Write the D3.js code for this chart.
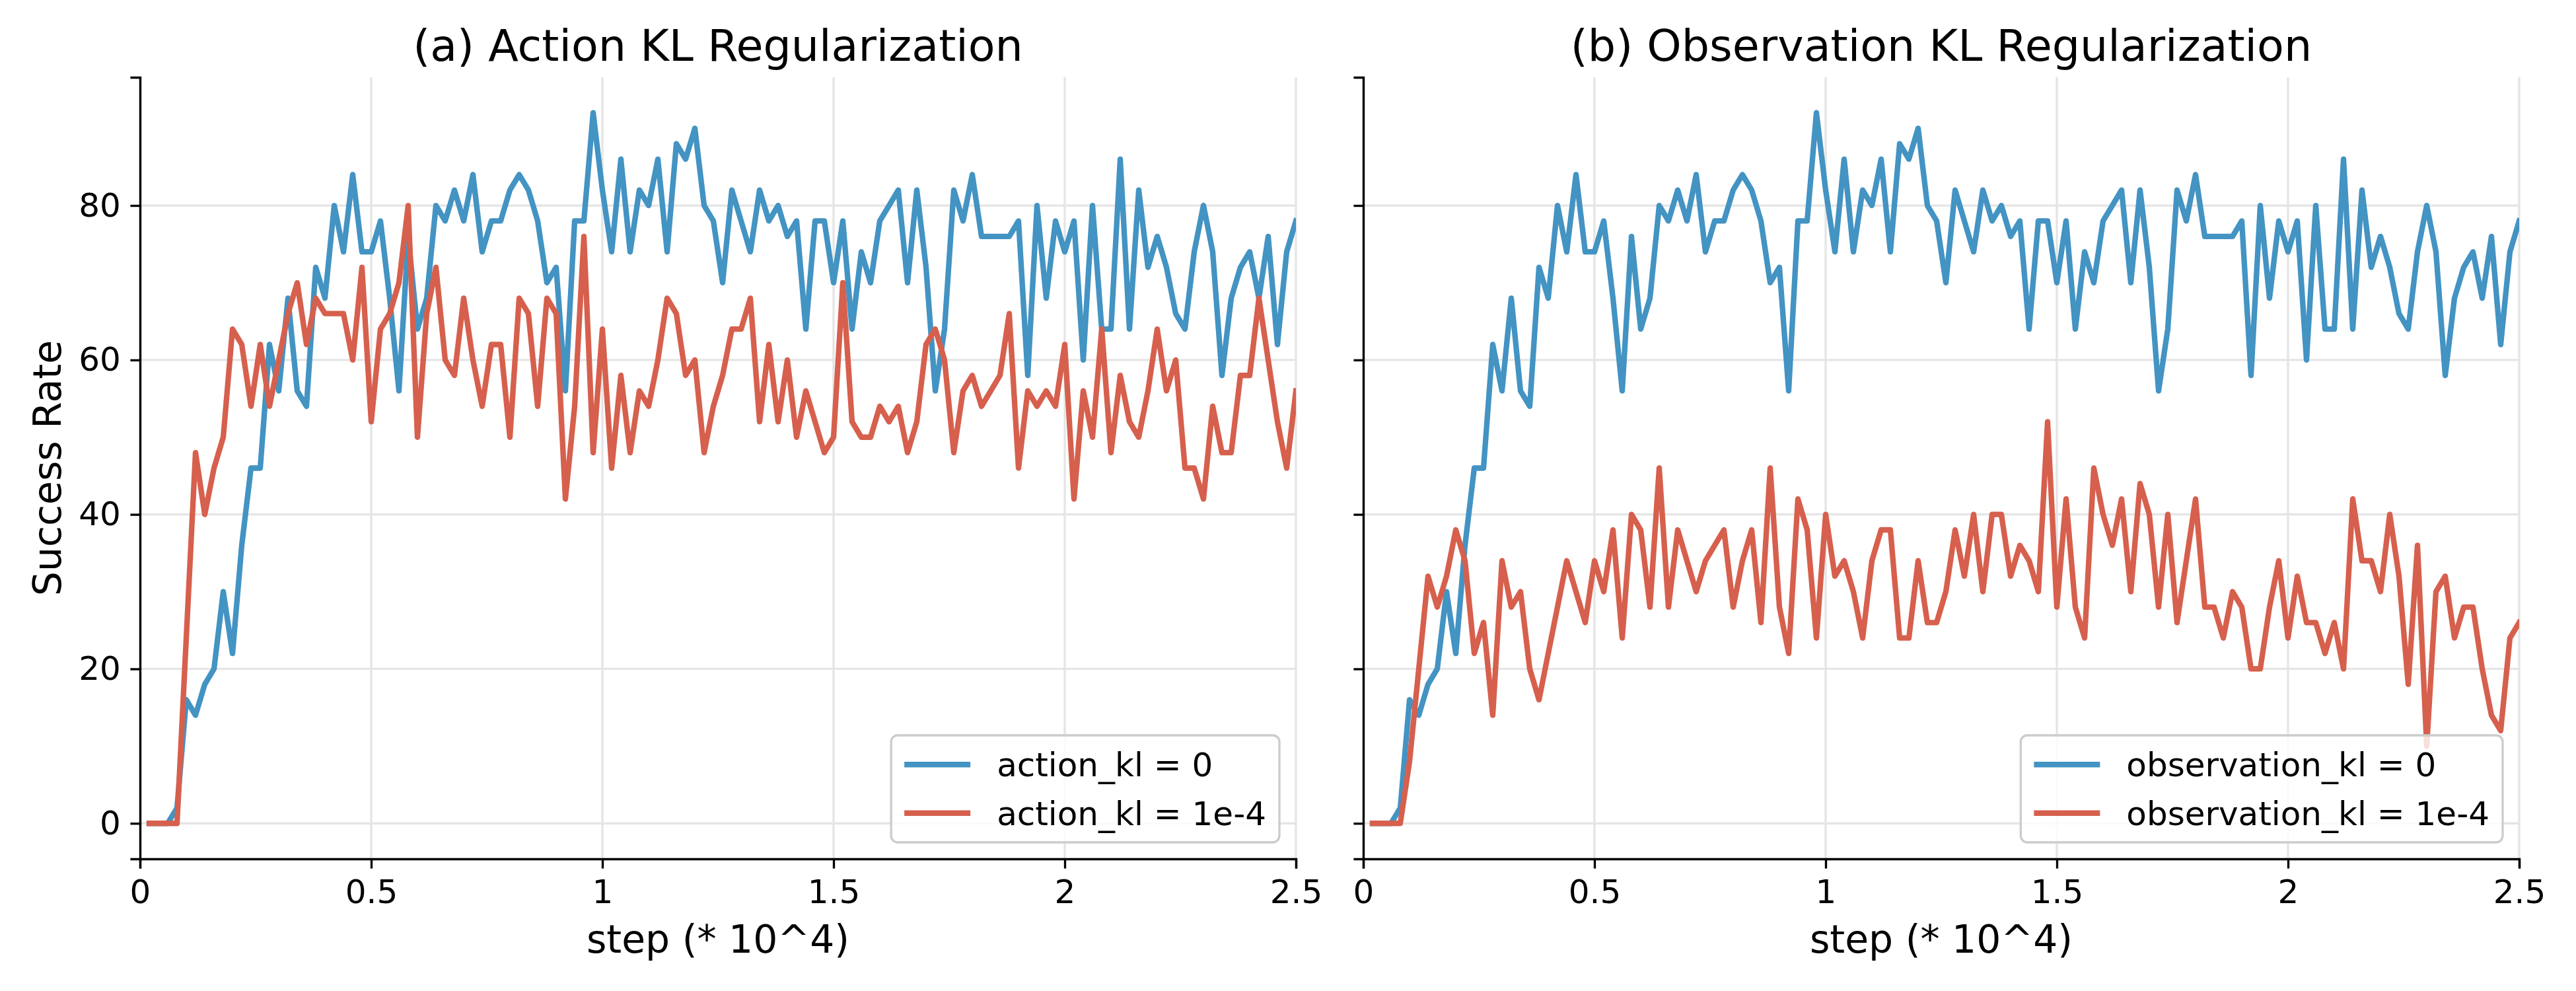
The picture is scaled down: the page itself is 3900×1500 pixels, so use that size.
<!DOCTYPE html>
<html lang="en">
<head>
    <meta charset="UTF-8">
    <title>KL Regularization Success Rate</title>
    <script src="https://cdnjs.cloudflare.com/ajax/libs/d3/7.8.5/d3.min.js"></script>
    <style>
        body {
            margin: 0;
            padding: 0;
            background-color: white;
        }
        svg text {
            font-family: "DejaVu Sans", sans-serif;
        }
    </style>
</head>
<body>
    <div id="chart"></div>

    <script>
        // evaluation steps (* 10^4), one every 200 steps
        const steps = d3.range(1, 126).map(i => i * 0.02);

        // kl = 0 baseline (same run in both panels)
        const baselineRate = [
            0, 0, 0, 2, 16, 14, 18, 20, 30, 22,
            36, 46, 46, 62, 56, 68, 56, 54, 72, 68,
            80, 74, 84, 74, 74, 78, 68, 56, 76, 64,
            68, 80, 78, 82, 78, 84, 74, 78, 78, 82,
            84, 82, 78, 70, 72, 56, 78, 78, 92, 82,
            74, 86, 74, 82, 80, 86, 74, 88, 86, 90,
            80, 78, 70, 82, 78, 74, 82, 78, 80, 76,
            78, 64, 78, 78, 70, 78, 64, 74, 70, 78,
            80, 82, 70, 82, 72, 56, 64, 82, 78, 84,
            76, 76, 76, 76, 78, 58, 80, 68, 78, 74,
            78, 60, 80, 64, 64, 86, 64, 82, 72, 76,
            72, 66, 64, 74, 80, 74, 58, 68, 72, 74,
            68, 76, 62, 74, 78
        ];

        // action_kl = 1e-4
        const actionKlRate = [
            0, 0, 0, 0, 24, 48, 40, 46, 50, 64,
            62, 54, 62, 54, 60, 66, 70, 62, 68, 66,
            66, 66, 60, 72, 52, 64, 66, 70, 80, 50,
            66, 72, 60, 58, 68, 60, 54, 62, 62, 50,
            68, 66, 54, 68, 66, 42, 54, 76, 48, 64,
            46, 58, 48, 56, 54, 60, 68, 66, 58, 60,
            48, 54, 58, 64, 64, 68, 52, 62, 52, 60,
            50, 56, 52, 48, 50, 70, 52, 50, 50, 54,
            52, 54, 48, 52, 62, 64, 60, 48, 56, 58,
            54, 56, 58, 66, 46, 56, 54, 56, 54, 62,
            42, 56, 50, 64, 48, 58, 52, 50, 56, 64,
            56, 60, 46, 46, 42, 54, 48, 48, 58, 58,
            68, 60, 52, 46, 56
        ];

        // observation_kl = 1e-4
        const observationKlRate = [
            0, 0, 0, 0, 8, 20, 32, 28, 32, 38,
            34, 22, 26, 14, 34, 28, 30, 20, 16, 22,
            28, 34, 30, 26, 34, 30, 38, 24, 40, 38,
            28, 46, 28, 38, 34, 30, 34, 36, 38, 28,
            34, 38, 26, 46, 28, 22, 42, 38, 24, 40,
            32, 34, 30, 24, 34, 38, 38, 24, 24, 34,
            26, 26, 30, 38, 32, 40, 30, 40, 40, 32,
            36, 34, 30, 52, 28, 42, 28, 24, 46, 40,
            36, 42, 30, 44, 40, 28, 40, 26, 34, 42,
            28, 28, 24, 30, 28, 20, 20, 28, 34, 24,
            32, 26, 26, 22, 26, 20, 42, 34, 34, 30,
            40, 32, 18, 36, 10, 30, 32, 24, 28, 28,
            20, 14, 12, 24, 26
        ];

        const xTicks = [0, 0.5, 1, 1.5, 2, 2.5];
        const yTicks = [0, 20, 40, 60, 80];
        const panelTitles = ["(a) Action KL Regularization", "(b) Observation KL Regularization"];
        const legendLabels = [
            ["action_kl = 0", "action_kl = 1e-4"],
            ["observation_kl = 0", "observation_kl = 1e-4"]
        ];

        const width = 3900;
        const height = 1500;
        const pt = 300 / 72;            // figure was 13x5 in at 300 dpi
        const plotTop = 117, plotBottom = 1300;
        const panelX = [[212, 1962], [2064, 3814]];
        const blue = "#4393c3";
        const red = "#d6604d";

        const svg = d3.select("#chart")
            .append("svg")
            .attr("width", width)
            .attr("height", height);

        const y = d3.scaleLinear().domain([-4.6, 96.6]).range([plotBottom, plotTop]);

        const panels = [
            { title: panelTitles[0], labels: legendLabels[0], series: [baselineRate, actionKlRate] },
            { title: panelTitles[1], labels: legendLabels[1], series: [baselineRate, observationKlRate] }
        ];

        panels.forEach((p, i) => {
            const [x0, x1] = panelX[i];
            const x = d3.scaleLinear().domain([0, 2.5]).range([x0, x1]);
            const g = svg.append("g");

            // grid
            g.append("g")
                .selectAll("line")
                .data(xTicks)
                .enter().append("line")
                .attr("x1", d => x(d)).attr("x2", d => x(d))
                .attr("y1", plotTop).attr("y2", plotBottom)
                .style("stroke", "#e5e5e5")
                .style("stroke-width", 0.8 * pt);
            g.append("g")
                .selectAll("line")
                .data(yTicks)
                .enter().append("line")
                .attr("x1", x0).attr("x2", x1)
                .attr("y1", d => y(d)).attr("y2", d => y(d))
                .style("stroke", "#e5e5e5")
                .style("stroke-width", 0.8 * pt);

            // lines
            const clipId = "clip" + i;
            svg.append("clipPath").attr("id", clipId)
                .append("rect")
                .attr("x", x0).attr("y", plotTop)
                .attr("width", x1 - x0).attr("height", plotBottom - plotTop);

            const line = d3.line()
                .x((d, k) => x(steps[k]))
                .y(d => y(d));

            [blue, red].forEach((c, s) => {
                g.append("path")
                    .datum(p.series[s])
                    .attr("clip-path", `url(#${clipId})`)
                    .attr("d", line)
                    .style("fill", "none")
                    .style("stroke", c)
                    .style("stroke-width", 2 * pt)
                    .style("stroke-linejoin", "round")
                    .style("stroke-linecap", "square");
            });

            // axes
            const xAxis = g.append("g")
                .attr("transform", `translate(0,${plotBottom})`)
                .call(d3.axisBottom(x)
                    .tickValues(xTicks)
                    .tickFormat(d3.format("~g"))
                    .tickSizeOuter(0)
                    .tickSize(3.5 * pt)
                    .tickPadding(3.5 * pt));

            const yAxis = g.append("g")
                .attr("transform", `translate(${x0},0)`)
                .call(d3.axisLeft(y)
                    .tickValues(yTicks)
                    .tickSizeOuter(0)
                    .tickSize(3.5 * pt)
                    .tickPadding(3.5 * pt));

            [xAxis, yAxis].forEach(a => {
                a.select(".domain").style("stroke", "#000").style("stroke-width", 0.8 * pt);
                a.selectAll(".tick line").style("stroke", "#000").style("stroke-width", 0.8 * pt);
                a.selectAll(".tick text")
                    .style("font-family", "DejaVu Sans")
                    .style("font-size", (12 * pt) + "px")
                    .style("fill", "#000");
            });
            xAxis.selectAll(".tick text").attr("dy", "0.76em");
            if (i === 1) yAxis.selectAll(".tick text").remove();

            // title and labels
            g.append("text")
                .attr("x", (x0 + x1) / 2)
                .attr("y", 92)
                .attr("text-anchor", "middle")
                .style("font-size", (16 * pt) + "px")
                .text(p.title);

            g.append("text")
                .attr("x", (x0 + x1) / 2)
                .attr("y", 1442)
                .attr("text-anchor", "middle")
                .style("font-size", (14 * pt) + "px")
                .text("step (* 10^4)");

            if (i === 0) {
                g.append("text")
                    .attr("transform", `translate(92,${(plotTop + plotBottom) / 2}) rotate(-90)`)
                    .attr("text-anchor", "middle")
                    .style("font-size", (14 * pt) + "px")
                    .text("Success Rate");
            }

            // legend, lower right
            const fs = 12 * pt;
            const leg = g.append("g");
            const frame = leg.append("rect");
            const texts = p.labels.map(l => leg.append("text")
                .style("font-size", fs + "px")
                .text(l));
            const textW = d3.max(texts, t => t.node().getComputedTextLength());
            const rowH = 0.97 * fs;
            const boxW = 0.4 * fs + 2.0 * fs + 0.8 * fs + textW + 0.4 * fs;
            const boxH = 0.4 * fs * 2 + rowH * 2 + 0.5 * fs;
            const bx = x1 - 0.5 * fs - boxW;
            const by = plotBottom - 0.5 * fs - boxH;
            frame.attr("x", bx).attr("y", by)
                .attr("width", boxW).attr("height", boxH)
                .attr("rx", 0.2 * fs)
                .style("fill", "white")
                .style("fill-opacity", 0.8)
                .style("stroke", "#cccccc")
                .style("stroke-width", 0.8 * pt);
            [blue, red].forEach((c, s) => {
                const cy = by + 0.4 * fs + rowH / 2 + s * (rowH + 0.5 * fs);
                leg.append("line")
                    .attr("x1", bx + 0.4 * fs).attr("x2", bx + 2.4 * fs)
                    .attr("y1", cy).attr("y2", cy)
                    .style("stroke", c)
                    .style("stroke-width", 2 * pt);
                texts[s].attr("x", bx + 3.2 * fs).attr("y", cy).attr("dy", "0.36em");
            });
        });
    </script>
</body>
</html>
